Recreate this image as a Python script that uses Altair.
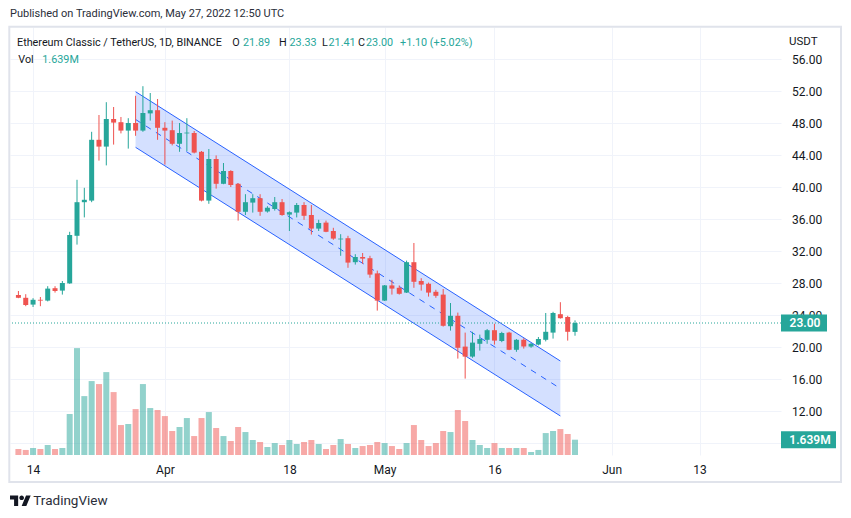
import altair as alt
import pandas as pd

# ---------------- data (ETC/USDT, 1D, BINANCE) ----------------
dates = pd.date_range("2022-03-12", "2022-05-27", freq="D").strftime("%Y-%m-%d").tolist()

opens = [26.50, 26.15, 25.30, 25.90, 25.80, 27.35, 27.05, 27.95, 33.90, 38.10,
         38.30, 45.90, 45.05, 48.50, 48.10, 47.05, 48.00, 47.05, 49.20, 49.60,
         47.40, 47.10, 45.40, 46.70, 46.75, 44.40, 38.30, 43.50, 40.40, 42.00,
         40.40, 36.90, 38.05, 38.60, 36.95, 37.25, 38.10, 36.55, 36.80, 37.75,
         36.50, 34.80, 35.55, 34.50, 33.45, 33.60, 30.60, 31.25, 31.10, 29.20,
         25.80, 27.70, 27.40, 26.80, 30.60, 28.25, 27.90, 26.90, 26.55, 22.60,
         23.90, 20.05, 18.80, 20.40, 20.90, 22.10, 20.75, 21.80, 19.65, 20.90,
         20.05, 20.30, 20.90, 21.80, 24.10, 23.75, 21.89]
highs = [27.00, 26.60, 26.10, 26.25, 27.60, 27.60, 28.25, 34.40, 40.90, 39.90,
         46.90, 49.00, 50.60, 50.00, 48.75, 48.60, 51.40, 52.60, 51.75, 51.00,
         48.10, 48.30, 48.00, 48.60, 47.00, 44.50, 44.75, 43.95, 43.00, 42.10,
         40.50, 39.10, 39.10, 39.10, 37.60, 38.75, 38.50, 36.95, 38.00, 38.10,
         37.75, 35.90, 35.80, 34.90, 34.10, 33.90, 31.60, 31.75, 31.40, 29.55,
         27.75, 28.40, 27.70, 30.80, 33.00, 28.60, 28.05, 27.15, 27.25, 25.50,
         24.30, 21.80, 21.90, 21.55, 22.25, 22.90, 21.90, 21.90, 21.00, 21.10,
         20.50, 21.25, 24.25, 24.40, 25.60, 23.90, 23.33]
lows = [26.10, 25.10, 25.00, 25.10, 25.70, 26.80, 26.55, 27.90, 32.80, 36.20,
        38.10, 43.30, 42.70, 45.30, 46.70, 44.80, 46.40, 46.90, 48.30, 45.90,
        42.80, 45.20, 44.40, 44.50, 44.20, 38.20, 37.90, 39.80, 40.35, 40.00,
        35.80, 36.50, 36.80, 36.40, 36.80, 37.05, 36.40, 34.50, 36.20, 35.90,
        34.05, 34.50, 34.35, 33.40, 31.40, 29.90, 30.30, 30.40, 28.65, 24.55,
        25.75, 26.55, 26.55, 26.75, 27.40, 27.05, 26.30, 26.15, 22.55, 22.05,
        18.55, 16.05, 18.65, 19.55, 20.40, 20.30, 20.60, 19.60, 19.40, 19.80,
        19.90, 20.20, 20.70, 21.05, 23.55, 20.80, 21.41]
closes = [26.15, 25.25, 25.90, 25.80, 27.30, 27.00, 28.00, 34.00, 38.10, 38.40,
          45.90, 45.05, 48.50, 48.05, 47.05, 48.00, 47.05, 49.25, 49.60, 47.40,
          47.05, 45.40, 46.75, 46.80, 44.30, 38.30, 43.50, 40.40, 42.00, 40.25,
          36.90, 38.10, 38.60, 36.90, 37.40, 38.10, 36.50, 36.85, 37.75, 36.40,
          34.80, 35.50, 34.40, 33.55, 33.55, 30.55, 31.25, 31.05, 29.05, 25.80,
          27.70, 27.30, 26.65, 30.60, 28.15, 27.80, 26.80, 26.40, 22.65, 23.90,
          19.90, 18.80, 20.55, 21.00, 22.10, 20.80, 21.75, 19.65, 20.90, 20.05,
          20.40, 21.00, 21.90, 24.25, 23.60, 21.90, 23.00]
volumes = [0.64, 0.54, 0.75, 0.64, 1.07, 0.64, 0.75, 4.39, 11.45, 6.31,
           7.92, 7.60, 8.88, 6.74, 3.21, 3.32, 4.92, 7.60, 5.03, 4.82,
           4.17, 2.57, 3.00, 3.96, 2.03, 3.96, 4.60, 2.89, 2.03, 1.50,
           3.00, 2.46, 1.61, 1.39, 0.86, 1.28, 1.07, 1.61, 1.18, 1.39,
           1.61, 1.18, 0.64, 1.07, 1.71, 1.18, 0.75, 0.96, 1.07, 1.39,
           1.28, 0.96, 0.64, 1.28, 3.21, 1.61, 0.96, 1.28, 2.57, 2.46,
           4.82, 3.64, 1.61, 1.07, 0.75, 1.28, 0.75, 0.75, 0.75, 0.75,
           0.32, 0.54, 2.35, 2.57, 2.78, 2.25, 1.639]

channel_dates = ["2022-03-28", "2022-05-25"]
channel_upper = [51.91, 18.25]
channel_lower = [44.96, 11.38]
channel_mid = [48.44, 14.81]

price_ticks = [8, 12, 16, 20, 24, 28, 32, 36, 40, 44, 48, 52, 56]
date_ticks = ["2022-03-14", "2022-04-01", "2022-04-18", "2022-05-01",
              "2022-05-16", "2022-06-01", "2022-06-13"]

# ---------------- layout / style ----------------
W, H = 771, 428
UP, DOWN = "#26a69a", "#ef5350"
BLUE = "#2962ff"
TXT = "#131722"
GRID = "#f0f3fa"
FONT = "Roboto"
LEG = 10.8


def ms(s):
    return int(pd.Timestamp(s, tz="UTC").timestamp() * 1000)


x0 = pd.Timestamp("2022-03-14", tz="UTC") - pd.Timedelta(days=2.466)
x1 = x0 + pd.Timedelta(days=W / 7.42)
x_scale = alt.Scale(type="utc", domain=[int(x0.timestamp() * 1000), int(x1.timestamp() * 1000)], nice=False)
x_axis = alt.Axis(values=[ms(d) for d in date_ticks],
                  labelExpr="utcdate(datum.value) == 1 ? utcFormat(datum.value, '%b') : utcFormat(datum.value, '%d')",
                  grid=True, gridColor=GRID, ticks=False, tickSize=0, domain=False,
                  labelPadding=14, labelBaseline="middle", labelFontSize=12, labelColor=TXT,
                  labelFont=FONT, title=None, labelFlush=False, labelOverlap=False)

y_scale = alt.Scale(domain=[6.5, 60], nice=False, zero=False)
y_axis = alt.Axis(orient="right", values=price_ticks, format=".2f",
                  labelExpr="datum.value == 8 ? '' : datum.label",
                  grid=True, gridColor=GRID,
                  ticks=False, tickSize=0, domain=False, labelPadding=10.5, labelFontSize=12,
                  labelColor=TXT, labelFont=FONT, title=None, labelOverlap=False, labelFlush=False)
vol_scale = alt.Scale(domain=[0, 45.85], nice=False, zero=True)


def X(field="date"):
    return alt.X(f"{field}:T", scale=x_scale, axis=x_axis)


def Y(field):
    return alt.Y(f"{field}:Q", scale=y_scale, axis=y_axis)


color = alt.Color("dir:N", scale=alt.Scale(domain=["up", "down"], range=[UP, DOWN]), legend=None)

df = pd.DataFrame({"date": dates, "open": opens, "high": highs, "low": lows,
                   "close": closes, "volume": volumes})
df["dir"] = ["up" if c >= o else "down" for o, c in zip(opens, closes)]

ch = pd.DataFrame({"date": channel_dates, "upper": channel_upper,
                   "lower": channel_lower, "mid": channel_mid})
last = pd.DataFrame({"c": [closes[-1]], "v": [volumes[-1]],
                     "vt": [f"{volumes[-1]:.3f}M"]})
dummy = pd.DataFrame({"k": [0]})


def label(text, x, y, color=TXT, size=LEG, **kw):
    return alt.Chart(dummy).mark_text(text=text, align="left", baseline="middle", font=FONT,
                                      fontSize=size, color=color, **kw).encode(
        x=alt.value(x), y=alt.value(y))


# ---------------- volume pane ----------------
vol_bars = alt.Chart(df).mark_bar(size=6, opacity=0.5).encode(
    x=X(), y=alt.Y("volume:Q", scale=vol_scale, axis=None), color=color)
vol_box = alt.Chart(last).mark_tick(orient="horizontal", color=UP, thickness=17, size=55, opacity=1).encode(
    x=alt.value(798.5), y=alt.Y("v:Q", scale=vol_scale, axis=None))
vol_txt = alt.Chart(last).mark_text(color="white", font=FONT, fontSize=12, fontWeight=600,
                                    align="center", baseline="middle").encode(
    x=alt.value(800), y=alt.Y("v:Q", scale=vol_scale, axis=None), text="vt:N")
vol_layer = alt.layer(vol_bars, vol_box, vol_txt)

# ---------------- price pane ----------------
frame = alt.Chart(dummy).mark_rect(filled=False, color="#e0e3eb", strokeWidth=2).encode(
    x=alt.value(-0.7), x2=alt.value(831), y=alt.value(-0.3), y2=alt.value(455))
area = alt.Chart(ch).mark_area(color=BLUE, opacity=0.2).encode(x=X(), y=Y("lower"), y2="upper")
up_line = alt.Chart(ch).mark_line(color=BLUE, strokeWidth=1).encode(x=X(), y=Y("upper"))
lo_line = alt.Chart(ch).mark_line(color=BLUE, strokeWidth=1).encode(x=X(), y=Y("lower"))
mid_line = alt.Chart(ch).mark_line(color=BLUE, strokeWidth=1, strokeDash=[6, 6]).encode(x=X(), y=Y("mid"))
price_rule = alt.Chart(last).mark_rule(color=UP, strokeWidth=1, strokeDash=[1, 2]).encode(y=Y("c"))
wicks = alt.Chart(df).mark_rule(strokeWidth=1, opacity=1).encode(x=X(), y=Y("low"), y2="high", color=color)
bodies = alt.Chart(df).mark_bar(size=5, opacity=1).encode(x=X(), y=Y("open"), y2="close", color=color)
price_box = alt.Chart(last).mark_tick(orient="horizontal", color=UP, thickness=17, size=46, opacity=1).encode(
    x=alt.value(794), y=Y("c"))
price_txt = alt.Chart(last).mark_text(color="white", font=FONT, fontSize=12, fontWeight=600,
                                      align="center", baseline="middle").encode(
    x=alt.value(795), y=Y("c"), text=alt.Text("c:Q", format=".2f"))

chg = closes[-1] - closes[-2]
pct = chg / closes[-2] * 100
texts = [
    label("Published on TradingView.com, May 27, 2022 12:50 UTC", 0, -13, color="#2a2e39", size=11),
    label("Ethereum Classic / TetherUS, 1D, BINANCE", 7, 15.5),
    label("O", 222.3, 15.5), label(f"{opens[-1]:.2f}", 233, 15.5, color=UP),
    label("H", 269, 15.5), label(f"{highs[-1]:.2f}", 279.5, 15.5, color=UP),
    label("L", 312, 15.5), label(f"{lows[-1]:.2f}", 318.5, 15.5, color=UP),
    label("C", 348, 15.5), label(f"{closes[-1]:.2f}", 356, 15.5, color=UP),
    label(f"{chg:+.2f} ({pct:+.2f}%)", 390, 15.5, color=UP),
    label("Vol", 8.3, 33), label(f"{volumes[-1]:.3f}M", 32.3, 33, color=UP),
    label("USDT", 779, 15, size=11.5),
    label("TradingView", 23.3, 473.7, color="#2a2e39", size=13.5),
]

logo_path = ("M-0.2113,0.507L-0.6056,0.507L-0.6056,-0.1127L-1,-0.1127L-1,-0.507L-0.2113,-0.507Z"
             "M0.5775,0.507L0.1268,0.507L0.5493,-0.507L1,-0.507Z"
             "M-0.0986,-0.2817A0.2254,0.2254,0,1,0,0.3522,-0.2817A0.2254,0.2254,0,1,0,-0.0986,-0.2817Z")
logo = alt.Chart(dummy).mark_point(shape=logo_path, size=428, filled=True, color=TXT,
                                   opacity=1, strokeWidth=0).encode(
    x=alt.value(10.35), y=alt.value(473.7))

price_layer = alt.layer(frame, area, up_line, lo_line, mid_line, price_rule, wicks, bodies,
                        price_box, price_txt, logo, *texts)

chart = alt.layer(vol_layer, price_layer).resolve_scale(y="independent").properties(
    width=W, height=H,
    autosize=alt.AutoSizeParams(type="none"),
    padding={"left": 2, "top": 19, "right": 62, "bottom": 55},
).configure_view(strokeWidth=0)

chart.save("out.html", embed_options={"renderer": "svg", "actions": False})
